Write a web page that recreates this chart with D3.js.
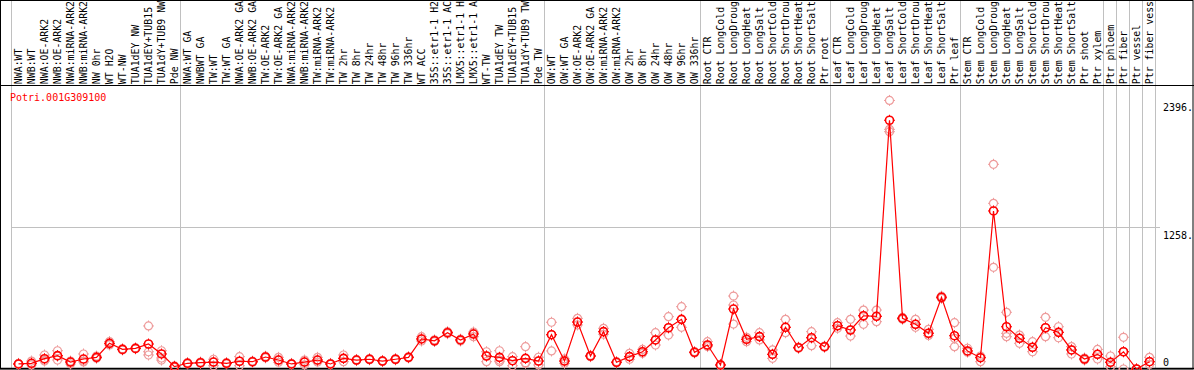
<!DOCTYPE html>
<html><head><meta charset="utf-8">
<script src="https://cdn.jsdelivr.net/npm/d3@7"></script>
<style>html,body{margin:0;padding:0;background:#fff;overflow:hidden}svg{display:block}</style>
</head><body><svg id="c" width="1194" height="370"></svg>
<script>
const title = "Potri.001G309100";
const categories = ["NWA:WT","NWB:WT","NWA:OE-ARK2","NWB:OE-ARK2","NWA:miRNA-ARK2","NWB:miRNA-ARK2","NW 0hr","WT H2O","WT-NW","TUA1dEY NW","TUA1dEY+TUB15","TUA1dY+TUB9 NW","Pde NW",
"NWA:WT GA","NWBWT GA","TW:WT","TW:WT GA","NWA:OE-ARK2 GA","NWB:OE-ARK2 GA","TW:OE-ARK2","TW:OE-ARK2 GA","NWA:miRNA-ARK2","NWB:miRNA-ARK2","TW:miRNA-ARK2","TW:miRNA-ARK2","TW 2hr","TW 8hr","TW 24hr","TW 48hr","TW 96hr","TW 336hr","WT ACC","35S::etr1-1 H2","35S::etr1-1 AC","LMX5::etr1-1 H","LMX5::etr1-1 A","WT-TW","TUA1dEY TW","TUA1dEY+TUB15","TUA1dY+TUB9 TW","Pde TW",
"OW:WT","OW:WT GA","OW:OE-ARK2","OW:OE-ARK2 GA","OW:miRNA-ARK2","OW:miRNA-ARK2","OW 2hr","OW 8hr","OW 24hr","OW 48hr","OW 96hr","OW 336hr",
"Root CTR","Root LongCold","Root LongDroug","Root LongHeat","Root LongSalt","Root ShortCold","Root ShortDrou","Root ShortHeat","Root ShortSalt","Ptr root",
"Leaf CTR","Leaf LongCold","Leaf LongDroug","Leaf LongHeat","Leaf LongSalt","Leaf ShortCold","Leaf ShortDrou","Leaf ShortHeat","Leaf ShortSalt","Ptr leaf",
"Stem CTR","Stem LongCold","Stem LongDroug","Stem LongHeat","Stem LongSalt","Stem ShortCold","Stem ShortDrou","Stem ShortHeat","Stem ShortSalt","Ptr shoot","Ptr xylem","Ptr phloem","Ptr fiber","Ptr vessel","Ptr fiber vess"];
const means = [45,51,92,119,62,89,104,229,175,184,223,134,21,
51,56,62,51,69,65,107,80,45,62,80,45,95,80,87,71,87,104,268,252,324,259,312,116,104,74,95,71,
306,71,419,116,333,60,110,154,259,368,443,149,
214,36,535,265,289,131,372,190,279,199,
386,348,475,470,2219,452,399,319,640,297,
161,101,1410,377,274,194,368,327,170,89,131,60,154,0,65];
const reps = [[40,45,50],[36,50,71],[71,80,125],[80,115,163],[45,62,71],[63,71,134],[95,104,115],[215,229,245],[170,175,180],[180,184,188],[125,154,384],[80,98,163],[15,21,27],
[45,51,57],[50,56,62],[29,62,87],[45,51,57],[29,69,110],[60,65,70],[100,107,114],[60,80,104],[40,45,50],[38,62,80],[62,80,104],[40,45,50],[65,95,125],[75,80,85],[82,87,92],[66,71,76],[82,87,92],[99,104,109],[250,268,288],[245,252,260],[315,324,333],[250,259,266],[288,320,330],[65,116,154],[65,80,163],[29,74,110],[51,56,199],[36,71,105],
[161,306,417],[51,71,90],[393,419,452],[110,116,122],[310,333,363],[55,60,65],[87,110,140],[140,154,175],[214,259,324],[303,368,467],[372,443,556],[143,149,155],
[200,214,244],[30,36,42],[401,571,651],[244,265,283],[259,289,324],[95,131,170],[324,372,443],[185,190,195],[208,279,333],[195,199,205],
[363,386,413],[294,348,443],[399,475,526],[422,470,526],[2117,2138,2396],[443,452,460],[372,399,443],[300,319,354],[630,640,650],[199,274,413],
[150,161,185],[65,101,116],[907,1478,1826],[288,318,506],[229,274,303],[154,194,244],[288,368,461],[279,327,377],[134,170,200],[80,89,98],[89,131,175],[21,60,116],[0,154,283],[0,0,0],[40,65,104]];
const separators = [0,13,41,53,63,73,84,85,86,87,88];
const maxVal = 2396;
const yTicks = [0, 1258, 2396];
const yTickLabels = ["0", "1258.", "2396."];

const W = 1194, H = 370;
const svg = d3.select("#c");
const font = "'DejaVu Sans Mono', 'Liberation Mono', monospace";
const x = d3.scaleLinear().domain([0, categories.length]).range([11, 1155]);
const y = d3.scaleLinear().domain([0, maxVal * 1.05]).range([369, 87]);
const cx = i => x(i) + 7.5;

// horizontal grid
svg.append("line").attr("x1", 11).attr("x2", 1160).attr("y1", y(yTicks[1])).attr("y2", y(yTicks[1]))
  .attr("stroke", "#c0c0c0").attr("stroke-width", 1).attr("shape-rendering", "crispEdges");
// vertical separators
svg.selectAll("line.sep").data(separators).join("line").attr("class", "sep")
  .attr("x1", d => Math.round(x(d)) + 0.5).attr("x2", d => Math.round(x(d)) + 0.5)
  .attr("y1", 0).attr("y2", 369).attr("stroke", "#c0c0c0").attr("stroke-width", 1);

// header labels
svg.append("g").selectAll("text").data(categories).join("text")
  .attr("transform", (d, i) => `translate(${x(i) + 11},84.2) rotate(-90)`)
  .attr("font-family", font).attr("font-size", 9.9).attr("fill", "#000").text(d => d);

// frame
svg.append("rect").attr("x", 0.5).attr("y", 0.5).attr("width", W - 1.5).attr("height", 368.5)
  .attr("fill", "none").attr("stroke", "#000").attr("stroke-width", 1);
svg.append("line").attr("x1", 0).attr("x2", W).attr("y1", 85.5).attr("y2", 85.5).attr("stroke", "#000");
svg.append("line").attr("x1", 0).attr("x2", W).attr("y1", 368.5).attr("y2", 368.5).attr("stroke", "#000").attr("stroke-width", 1.5);

// title
svg.append("text").attr("x", 10).attr("y", 101).attr("fill", "#ff0000")
  .attr("font-family", font).attr("font-size", 10).text(title);

// y labels
svg.selectAll("text.yl").data(yTicks).join("text").attr("class", "yl")
  .attr("x", 1163).attr("y", d => Math.min(y(d) + 11, 366))
  .attr("font-family", font).attr("font-size", 10).attr("fill", "#000")
  .text((d, i) => yTickLabels[i]);

// replicate markers
const repPts = [];
reps.forEach((r, i) => r.forEach(v => repPts.push({i, v})));
function marker(g, col, sw) {
  g.append("circle").attr("r", 4).attr("fill", "none").attr("stroke", col).attr("stroke-width", sw);
  g.append("path").attr("d", "M0,-5.5V-4M0,4V5.5M-5.5,0H-4M4,0H5.5").attr("stroke", col).attr("stroke-width", 1);
}
svg.append("g").selectAll("g").data(repPts).join("g")
  .attr("transform", d => `translate(${cx(d.i)},${y(d.v)})`)
  .each(function() { marker(d3.select(this), "#ee9c9c", 1.2); });

// mean line
svg.append("path").datum(means)
  .attr("d", d3.line().x((d, i) => cx(i)).y(d => y(d)))
  .attr("fill", "none").attr("stroke", "#ff0000").attr("stroke-width", 1.2);
svg.append("g").selectAll("g").data(means).join("g")
  .attr("transform", (d, i) => `translate(${cx(i)},${y(d)})`)
  .each(function() { marker(d3.select(this), "#ff0000", 1.6); });
</script></body></html>
